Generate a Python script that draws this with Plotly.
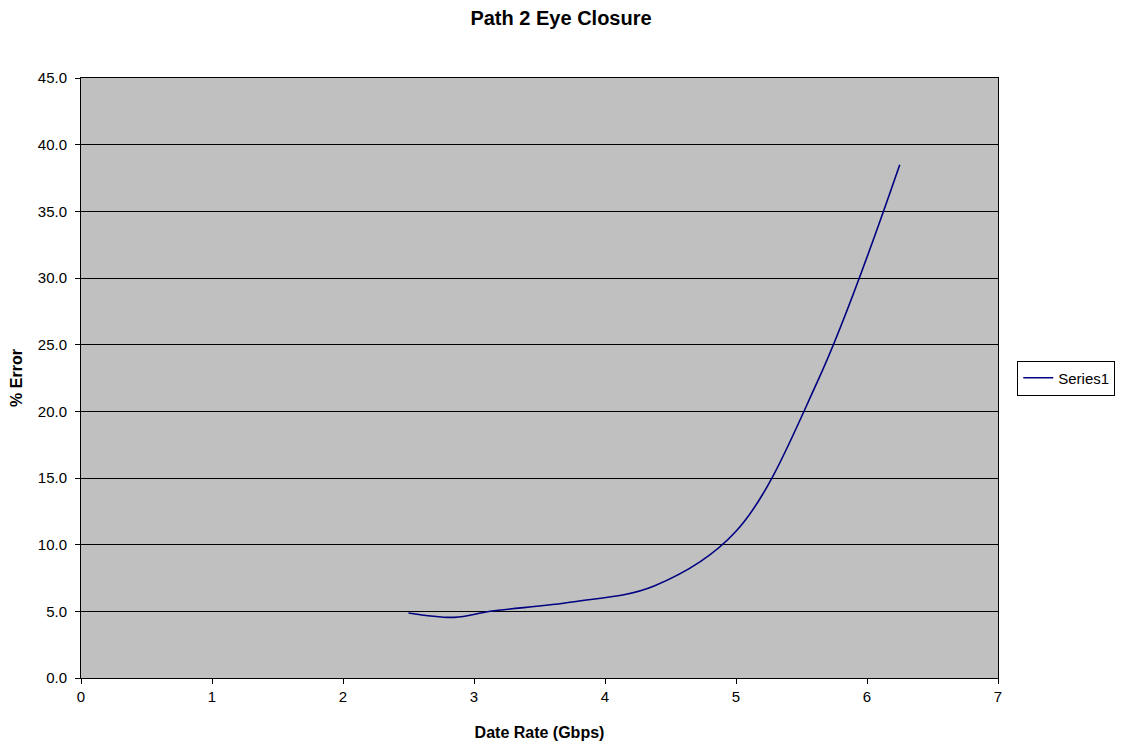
import plotly.graph_objects as go

rate_gbps = [2.5, 2.85, 3.125, 3.75, 4.375, 5.0, 5.625, 6.25]
pct_error = [4.88, 4.55, 5.0, 5.7, 6.9, 11.0, 22.3, 38.5]

x_ticks = [0, 1, 2, 3, 4, 5, 6, 7]
y_ticks = [0, 5, 10, 15, 20, 25, 30, 35, 40, 45]

FONT = "Liberation Sans, Arial, sans-serif"

fig = go.Figure()
fig.add_trace(go.Scatter(
    x=rate_gbps, y=pct_error, mode="lines", name="Series1",
    line=dict(color="#000080", width=1.6, shape="spline", smoothing=1.0),
))

fig.update_layout(
    width=1122, height=742,
    margin=dict(l=81, r=124, t=78, b=64, autoexpand=False),
    paper_bgcolor="white", plot_bgcolor="#C0C0C0",
    font=dict(family=FONT, size=15, color="black"),
    title=dict(text="<b>Path 2 Eye Closure</b>", x=0.5, xanchor="center",
               xref="container", y=1 - 18 / 742, yanchor="middle",
               font=dict(size=20, family=FONT)),
    showlegend=True,
    legend=dict(x=1.021, y=0.5, xanchor="left", yanchor="middle",
                bordercolor="black", borderwidth=1, bgcolor="white",
                font=dict(size=15, family=FONT)),
    xaxis=dict(range=[0, 7], tickvals=x_ticks, showgrid=False, zeroline=False,
               showline=True, linecolor="black", linewidth=1, mirror=True,
               ticks="outside", ticklen=5, tickcolor="black",
               title=dict(text="<b>Date Rate (Gbps)</b>", standoff=22,
                          font=dict(size=16, family=FONT))),
    yaxis=dict(range=[0, 45], tickvals=y_ticks, tickformat=".1f",
               showgrid=True, gridcolor="black", gridwidth=1, zeroline=False,
               showline=True, linecolor="black", linewidth=1, mirror=True,
               ticks="outside", ticklen=5, tickcolor="black",
               ticklabelstandoff=5,
               title=dict(text="<b>% Error</b>", standoff=11,
                          font=dict(size=16, family=FONT))),
)

fig.write_html("out.html")
